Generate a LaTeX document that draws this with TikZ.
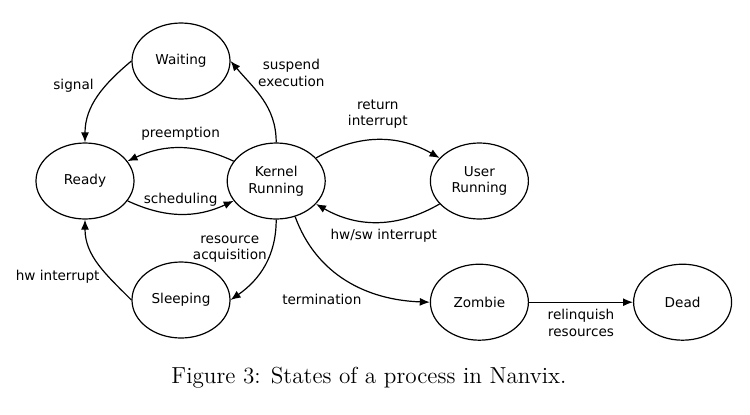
\documentclass[tikz,border=0pt]{standalone}
\usepackage{fontspec}
\setsansfont{DejaVu Sans}
\usetikzlibrary{positioning}
\usetikzlibrary{shapes.geometric}
\usetikzlibrary{arrows.meta}

\begin{document}
\begin{tikzpicture}[style={align=center}, line width=0.6pt,
	font=\sffamily\fontsize{6.8}{8.3}\selectfont,
	state/.style={draw, ellipse, minimum width=49pt, minimum height=38pt, inner sep=0pt},
	>={Latex[length=5pt, width=4pt]}]
	\useasboundingbox (-42.5pt,-116.5pt) rectangle (332.5pt,90.5pt);
	\node[state] (ready) {Ready};
	\node[state, right=46pt of ready] (kernel) {Kernel\\Running};
	\node[state, right=52pt of kernel] (user) {User\\Running};
	\node[state] (waiting) at (48pt,60pt) {Waiting};
	\node[state] (sleeping) at (48pt,-59.5pt) {Sleeping};
	\node[state, below=22pt of user] (zombie) {Zombie};
	\node[state, right=52pt of zombie] (dead) {Dead};
	\draw[->] (waiting.west) to[out=220, in=90] node[pos=0.35, left=2.5pt] {signal} (ready.north);
	\draw[->] (kernel.north) to[out=90, in=-50] node[pos=0.85, right=5pt] {suspend\\execution} (waiting.east);
	\draw[->] (kernel) to[out=155, in=25] node[above] {preemption} (ready);
	\draw[->] (ready) to[out=-25, in=-155] node[above] {scheduling} (kernel);
	\draw[->] (kernel) to[out=30, in=150] node[above=2pt] {return\\interrupt} (user);
	\draw[->] (user) to[out=-150, in=-30] node[below=0pt, xshift=3pt] {hw/sw interrupt} (kernel);
	\draw[->] (kernel.south) to[out=-90, in=35] node[pos=0.3, left=-1pt] {resource\\acquisition} (sleeping.east);
	\draw[->] (sleeping.west) to[out=135, in=-90] node[pos=0.32, left=1pt] {hw interrupt} (ready.south);
	\draw[->] (kernel.-62) to[out=-70, in=178] node[pos=0.62, below left=-1pt and -2pt] {termination} (zombie.west);
	\draw[->] (zombie) -- node[below] {relinquish\\resources} (dead);
	\node[anchor=base, font=\rmfamily\fontsize{11.6}{13.5}\selectfont] (caption) at (142pt,-101pt) {Figure 3: States of a process in Nanvix.};
\end{tikzpicture}
\end{document}
